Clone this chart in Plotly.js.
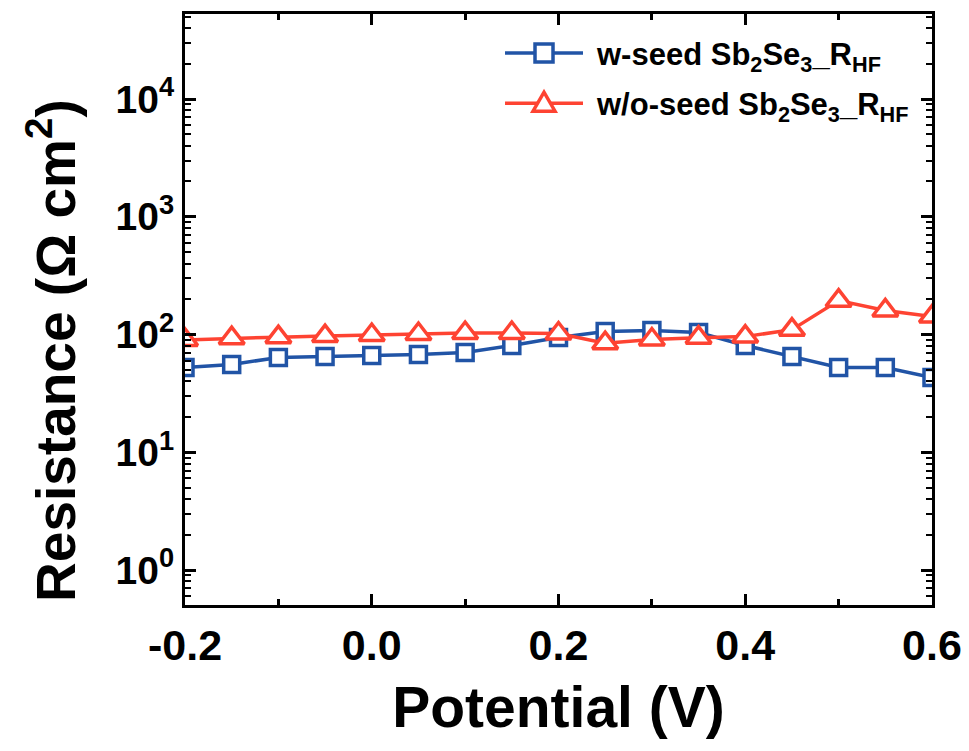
<!DOCTYPE html>
<html>
<head>
<meta charset="utf-8">
<script src="https://cdn.plot.ly/plotly-3.0.1.min.js"></script>
<style>html,body{margin:0;padding:0;background:#fff;}#chart{width:969px;height:751px;}</style>
</head>
<body>
<div id="chart"></div>
<script>
// Data
const potential = [-0.2, -0.15, -0.1, -0.05, 0.0, 0.05, 0.1, 0.15, 0.2, 0.25, 0.3, 0.35, 0.4, 0.45, 0.5, 0.55, 0.6];
const withSeed = [52.5, 55.7, 63.8, 65.1, 66.4, 67.5, 70.4, 80.7, 94.3, 106, 108, 104, 80.7, 65.1, 52.5, 52.5, 43.2];
const withoutSeed = [90, 93, 95, 97, 99, 101, 103, 103, 102, 84.5, 90.7, 94, 96, 110, 194, 160, 142];
const seriesNames = ["w-seed Sb<sub>2</sub>Se<sub>3</sub>_R<sub>HF</sub>", "w/o-seed Sb<sub>2</sub>Se<sub>3</sub>_R<sub>HF</sub>"];
const xTickVals = [-0.2, 0.0, 0.2, 0.4, 0.6];
const xTickText = ["-0.2", "0.0", "0.2", "0.4", "0.6"];
const yTickVals = [1, 10, 100, 1000, 10000];
const yTickText = ["10<sup>0</sup>", "10<sup>1</sup>", "10<sup>2</sup>", "10<sup>3</sup>", "10<sup>4</sup>"];
const decades = [0.1, 1, 10, 100, 1000, 10000];
const minorDigits = [2, 3, 4, 5, 6, 7, 8, 9];
const yMinorVals = [];
decades.forEach(d => minorDigits.forEach(m => yMinorVals.push(d * m)));

const BLUE = "#2154A6";
const RED = "#FE4332";
const FONT = "'Liberation Sans', Arial, Helvetica, sans-serif";

const traces = [
  {
    x: potential, y: withSeed, type: "scatter", mode: "lines+markers", name: seriesNames[0],
    line: {color: BLUE, width: 3.5},
    marker: {symbol: "square", size: 16, color: "#ffffff", line: {color: BLUE, width: 3.5}}
  },
  {
    x: potential, y: withoutSeed, type: "scatter", mode: "lines+markers", name: seriesNames[1],
    line: {color: RED, width: 3.5},
    marker: {symbol: "triangle-up", size: 22, color: "#ffffff", line: {color: RED, width: 3.5}}
  }
];

// custom legend (layout decoration)
const legRows = [0.934, 0.849];
const legLineX = [0.4284, 0.5328];
const legMarkX = 0.4806;
const legTextX = 0.5475;
const shapes = [];
const annotations = [];
const colors = [BLUE, RED];
legRows.forEach((yy, i) => {
  shapes.push({type: "line", xref: "paper", yref: "paper", x0: legLineX[0], x1: legLineX[1], y0: yy, y1: yy,
    line: {color: colors[i], width: 3.5}});
  if (i === 0) {
    shapes.push({type: "rect", xref: "paper", yref: "paper", xsizemode: "pixel", ysizemode: "pixel",
      xanchor: legMarkX, yanchor: yy, x0: -9, x1: 9, y0: -9, y1: 9,
      fillcolor: "#ffffff", line: {color: colors[i], width: 3.5}});
  } else {
    shapes.push({type: "path", xref: "paper", yref: "paper", xsizemode: "pixel", ysizemode: "pixel",
      xanchor: legMarkX, yanchor: yy, path: "M-11,-8 L11,-8 L0,11 Z",
      fillcolor: "#ffffff", line: {color: colors[i], width: 3.5}});
  }
  annotations.push({xref: "paper", yref: "paper", x: legTextX, y: yy - 0.006, xanchor: "left", yanchor: "middle",
    text: seriesNames[i], showarrow: false, font: {family: FONT, size: 31, color: "#000", weight: "bold"}});
});
annotations.push({xref: "paper", yref: "paper", x: -0.178, y: 0.43, xanchor: "center", yanchor: "middle",
  textangle: -90, showarrow: false, text: "Resistance (Ω cm<sup>2</sup>)",
  font: {family: FONT, size: 55, color: "#000", weight: "bold"}});

const layout = {
  width: 969, height: 751,
  margin: {l: 185, r: 37, t: 14, b: 146},
  paper_bgcolor: "#ffffff", plot_bgcolor: "#ffffff",
  showlegend: false,
  xaxis: {
    range: [-0.2, 0.6], tickmode: "array", tickvals: xTickVals, ticktext: xTickText,
    showgrid: false, zeroline: false, showline: true, linecolor: "#000", linewidth: 3, mirror: "allticks",
    ticks: "inside", ticklen: 11, tickwidth: 3, tickcolor: "#000",
    minor: {ticks: "inside", dtick: 0.1, ticklen: 6, tickwidth: 3, tickcolor: "#000", showgrid: false},
    tickfont: {family: FONT, size: 43, color: "#000", weight: "bold"},
    title: {text: "Potential (V)", font: {family: FONT, size: 57, color: "#000", weight: "bold"}, standoff: 20}
  },
  yaxis: {
    type: "log", range: [-0.297, 4.722], tickmode: "array", tickvals: yTickVals, ticktext: yTickText,
    showgrid: false, zeroline: false, showline: true, linecolor: "#000", linewidth: 3, mirror: "allticks",
    ticks: "inside", ticklen: 11, tickwidth: 3, tickcolor: "#000",
    minor: {ticks: "inside", tickmode: "array", tickvals: yMinorVals, ticklen: 6, tickwidth: 2, tickcolor: "#000", showgrid: false},
    tickfont: {family: FONT, size: 39, color: "#000", weight: "bold"}
  },
  shapes: shapes,
  annotations: annotations
};

Plotly.newPlot("chart", traces, layout, {displayModeBar: false, staticPlot: true});
</script>
</body>
</html>
